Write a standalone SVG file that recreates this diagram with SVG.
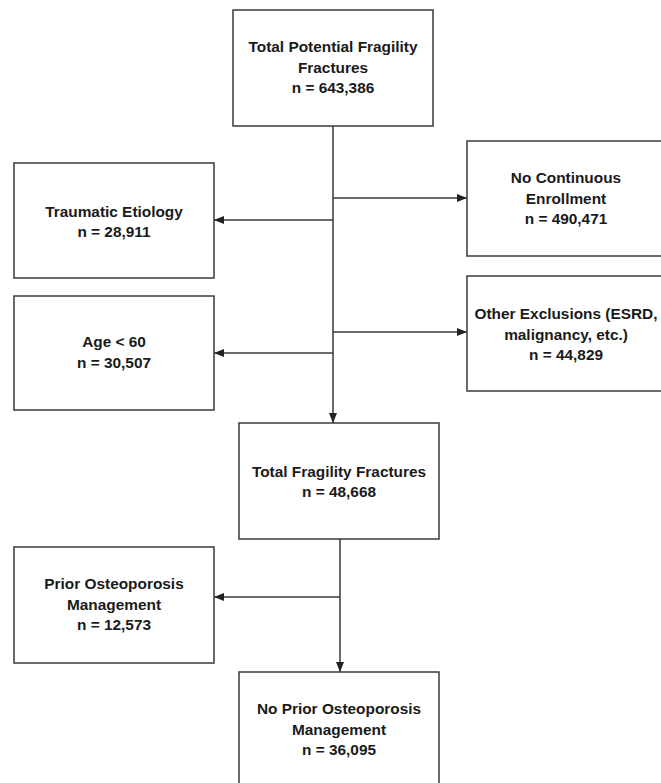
<svg xmlns="http://www.w3.org/2000/svg" width="661" height="783" viewBox="0 0 661 783">
<style>
.box{fill:#fff;stroke:#3a3a3a;stroke-width:1.5}
.t{font-family:"Liberation Sans",Arial,sans-serif;font-weight:bold;font-size:15.4px;fill:#1a1a1a;text-anchor:middle}
.c{fill:none;stroke:#3a3a3a;stroke-width:1.5}
</style>
<defs>
<marker id="ah" markerUnits="userSpaceOnUse" markerWidth="10" markerHeight="10" viewBox="0 0 10 10" refX="10" refY="5" orient="auto">
<path d="M0,1 L10,5 L0,9 Z" fill="#222"/>
</marker>
</defs>
<rect width="661" height="783" fill="#fff"/>
<g id="connectors">
<line class="c" x1="333" y1="126" x2="333" y2="423" marker-end="url(#ah)"/>
<line class="c" x1="333" y1="198" x2="467" y2="198" marker-end="url(#ah)"/>
<line class="c" x1="333" y1="220" x2="214" y2="220" marker-end="url(#ah)"/>
<line class="c" x1="333" y1="332" x2="467" y2="332" marker-end="url(#ah)"/>
<line class="c" x1="333" y1="353" x2="214" y2="353" marker-end="url(#ah)"/>
<line class="c" x1="340" y1="539" x2="340" y2="672" marker-end="url(#ah)"/>
<line class="c" x1="340" y1="597" x2="214" y2="597" marker-end="url(#ah)"/>
</g>
<g id="n_total_potential">
<rect class="box" x="233" y="10" width="200" height="116"/>
<text class="t" x="333" y="52">Total Potential Fragility</text>
<text class="t" x="333" y="73">Fractures</text>
<text class="t" x="333" y="93">n = 643,386</text>
</g>
<g id="n_no_continuous">
<rect class="box" x="467" y="141" width="200" height="115"/>
<text class="t" x="566" y="183">No Continuous</text>
<text class="t" x="566" y="204">Enrollment</text>
<text class="t" x="566" y="224">n = 490,471</text>
</g>
<g id="n_traumatic">
<rect class="box" x="14" y="163" width="200" height="115"/>
<text class="t" x="114" y="217">Traumatic Etiology</text>
<text class="t" x="114" y="237">n = 28,911</text>
</g>
<g id="n_other">
<rect class="box" x="467" y="276" width="200" height="115"/>
<text class="t" x="566" y="319">Other Exclusions (ESRD,</text>
<text class="t" x="566" y="340">malignancy, etc.)</text>
<text class="t" x="566" y="360">n = 44,829</text>
</g>
<g id="n_age">
<rect class="box" x="14" y="296" width="200" height="114"/>
<text class="t" x="114" y="347">Age &lt; 60</text>
<text class="t" x="114" y="368">n = 30,507</text>
</g>
<g id="n_total_fragility">
<rect class="box" x="239" y="423" width="200" height="116"/>
<text class="t" x="339" y="477">Total Fragility Fractures</text>
<text class="t" x="339" y="497">n = 48,668</text>
</g>
<g id="n_prior">
<rect class="box" x="14" y="547" width="200" height="116"/>
<text class="t" x="114" y="589">Prior Osteoporosis</text>
<text class="t" x="114" y="610">Management</text>
<text class="t" x="114" y="630">n = 12,573</text>
</g>
<g id="n_no_prior">
<rect class="box" x="239" y="672" width="200" height="116"/>
<text class="t" x="339" y="714">No Prior Osteoporosis</text>
<text class="t" x="339" y="735">Management</text>
<text class="t" x="339" y="755">n = 36,095</text>
</g>
</svg>
